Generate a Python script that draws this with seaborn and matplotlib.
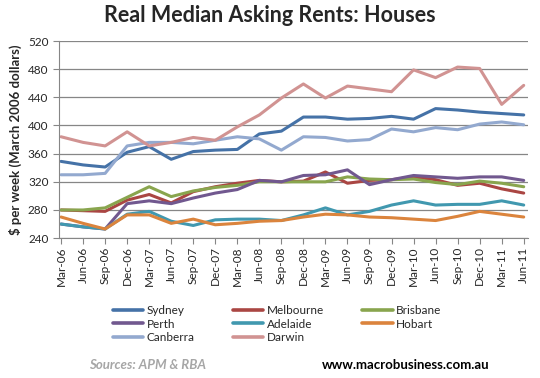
import seaborn as sns
import pandas as pd
import matplotlib.pyplot as plt

quarters = ["Mar-06", "Jun-06", "Sep-06", "Dec-06", "Mar-07", "Jun-07", "Sep-07", "Dec-07",
            "Mar-08", "Jun-08", "Sep-08", "Dec-08", "Mar-09", "Jun-09", "Sep-09", "Dec-09",
            "Mar-10", "Jun-10", "Sep-10", "Dec-10", "Mar-11", "Jun-11"]

sydney = [349, 344, 341, 362, 370, 352, 363, 365, 366, 388, 392, 412,
          412, 409, 410, 413, 409, 424, 422, 419, 417, 415]
melbourne = [280, 279, 278, 294, 302, 290, 306, 313, 318, 322, 320, 321,
             334, 318, 322, 323, 327, 323, 315, 318, 310, 304]
brisbane = [280, 280, 283, 298, 313, 299, 307, 312, 315, 320, 320, 320,
            320, 327, 324, 323, 324, 319, 316, 321, 318, 313]
perth = [260, 256, 253, 289, 293, 289, 297, 304, 309, 322, 320, 329,
         330, 337, 316, 323, 329, 327, 325, 327, 327, 322]
adelaide = [260, 256, 253, 274, 278, 264, 258, 266, 267, 267, 265, 273,
            283, 273, 278, 287, 293, 287, 288, 288, 293, 287]
hobart = [270, 261, 253, 273, 273, 261, 267, 259, 261, 264, 265, 270,
          274, 273, 270, 269, 267, 265, 271, 278, 274, 270]
canberra = [330, 330, 332, 371, 376, 376, 374, 379, 384, 381, 365, 384,
            383, 378, 380, 395, 391, 397, 394, 402, 405, 401]
darwin = [384, 376, 371, 391, 371, 376, 383, 379, 398, 415, 439, 459,
          439, 456, 452, 448, 479, 468, 483, 481, 430, 457]

cities = ["Sydney", "Melbourne", "Brisbane", "Perth", "Adelaide", "Hobart", "Canberra", "Darwin"]
series = [sydney, melbourne, brisbane, perth, adelaide, hobart, canberra, darwin]
colors = ["#4572A7", "#AA4643", "#89A54E", "#71588F", "#4198AF", "#DB843D", "#93A9CF", "#D19392"]

rows = []
for city, vals in zip(cities, series):
    for i, v in enumerate(vals):
        rows.append({"q": i, "city": city, "rent": v})
df = pd.DataFrame(rows)

sns.set_style("white")
plt.rcParams['font.family'] = ['Lato', 'DejaVu Sans']

fig = plt.figure(figsize=(5.4, 3.78), dpi=100)
ax = fig.add_axes([0.109, 0.370, 0.869, 0.5215])

sns.lineplot(data=df, x="q", y="rent", hue="city", hue_order=cities,
             palette=dict(zip(cities, colors)), linewidth=2.2, ax=ax, legend=False)

ax.set_ylim(240, 520)
ax.set_yticks(range(240, 521, 40))
ax.set_xlim(-0.1, 21.2)
ax.set_xticks(range(len(quarters)))
ax.set_xticklabels(quarters, rotation=90, fontsize=8.5)
ax.tick_params(axis="y", labelsize=8.5, length=4, color="#868686", direction="out", left=True)
ax.tick_params(axis="x", length=4, color="#868686", direction="out", bottom=True, pad=2)
ax.yaxis.grid(True, color="#868686", linewidth=0.9)
ax.set_axisbelow(True)
for s in ["top", "right"]:
    ax.spines[s].set_visible(False)
ax.spines["left"].set_color("#868686")
ax.spines["bottom"].set_color("#868686")
ax.set_xlabel("")
ax.set_ylabel("$ per week (March 2006 dollars)", fontsize=9.5, fontweight="bold")

fig.text(0.5, 0.96, "Real Median Asking Rents: Houses", ha="center", va="center",
         fontsize=15.5, fontweight="bold")

handles = [plt.Line2D([], [], color=c, lw=2.6) for c in colors]
order = [0, 3, 6, 1, 4, 7, 2, 5]
fig.legend([handles[i] for i in order], [cities[i] for i in order], ncol=3,
           loc="upper left", bbox_to_anchor=(0.2, 0.205), frameon=False,
           fontsize=8.5, handlelength=2.6, handletextpad=0.3, columnspacing=3.2,
           labelspacing=0.2, borderaxespad=0)

fig.text(0.165, 0.035, "Sources: APM & RBA", color="#A6A6A6", fontsize=9.5,
         fontweight="bold", style="italic", va="center")
fig.text(0.596, 0.035, "www.macrobusiness.com.au", color="black", fontsize=9.5,
         fontweight="bold", va="center")

fig.savefig("out.png", dpi=100)
